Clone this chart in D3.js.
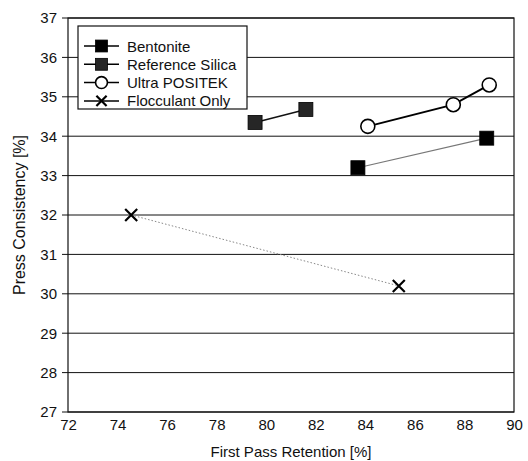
<!DOCTYPE html>
<html><head><meta charset="utf-8">
<script src="https://cdn.jsdelivr.net/npm/d3@7"></script>
<style>body{margin:0;background:#fff}svg{display:block}text{font-family:"Liberation Sans",Arial,sans-serif;fill:#111}</style>
</head><body><svg id="c" width="528" height="461"></svg>
<script>
const seriesNames = ["Bentonite","Reference Silica","Ultra POSITEK","Flocculant Only"];
const bentonite = [[83.7,33.2],[88.9,33.95]];
const referenceSilica = [[79.55,34.35],[81.6,34.68]];
const ultraPositek = [[84.1,34.25],[87.55,34.8],[89.0,35.3]];
const flocculantOnly = [[74.55,32.0],[85.35,30.2]];
const xTicks = [72,74,76,78,80,82,84,86,88,90];
const yTicks = [27,28,29,30,31,32,33,34,35,36,37];

const svg = d3.select("#c");
const L=68,R=514,T=18,B=412;
const x = d3.scaleLinear().domain([72,90]).range([L,R]);
const y = d3.scaleLinear().domain([27,37]).range([B,T]);

svg.append("g").selectAll("line").data(yTicks).join("line")
  .attr("x1",L-6).attr("x2",R).attr("y1",d=>y(d)).attr("y2",d=>y(d))
  .attr("stroke","#111").attr("stroke-width",1);
svg.append("rect").attr("x",L).attr("y",T).attr("width",R-L).attr("height",B-T)
  .attr("fill","none").attr("stroke","#111").attr("stroke-width",1.2);

const yAxis = d3.axisLeft(y).tickValues(yTicks).tickSize(0).tickPadding(11);
const gy = svg.append("g").attr("transform",`translate(${L},0)`).call(yAxis);
gy.select(".domain").remove();
gy.selectAll("text").attr("font-size",15).style("font-family","Liberation Sans, Arial");
const xAxis = d3.axisBottom(x).tickValues(xTicks).tickSize(0).tickPadding(7);
const gx = svg.append("g").attr("transform",`translate(0,${B})`).call(xAxis);
gx.select(".domain").remove();
gx.selectAll("text").attr("font-size",15).style("font-family","Liberation Sans, Arial");

svg.append("text").attr("x",(L+R)/2).attr("y",457).attr("text-anchor","middle")
  .attr("font-size",15).text("First Pass Retention [%]");
svg.append("text").attr("transform",`translate(25,${(T+B)/2}) rotate(-90)`).attr("text-anchor","middle")
  .attr("font-size",16).text("Press Consistency [%]");

const line = d3.line().x(d=>x(d[0])).y(d=>y(d[1]));
const styles = [
  {data:bentonite, stroke:"#777", sw:1.2, dash:null, marker:"sq", fill:"#000"},
  {data:referenceSilica, stroke:"#111", sw:1.5, dash:null, marker:"sq", fill:"#262626"},
  {data:ultraPositek, stroke:"#000", sw:2, dash:null, marker:"circ", fill:"#fff"},
  {data:flocculantOnly, stroke:"#888", sw:1, dash:"1.5,2", marker:"x", fill:"none"}
];
function drawMarker(g, type, cx, cy, fill, scale){
  scale = scale||1;
  if(type==="sq"){
    const s=14*scale;
    g.append("rect").attr("x",cx-s/2).attr("y",cy-s/2).attr("width",s).attr("height",s).attr("fill",fill).attr("stroke","#000").attr("stroke-width",0.8);
  } else if(type==="circ"){
    g.append("circle").attr("cx",cx).attr("cy",cy).attr("r",7*scale).attr("fill","#fff").attr("stroke","#000").attr("stroke-width",1.6);
  } else {
    const s=6*scale;
    g.append("path").attr("d",`M${cx-s},${cy-s}L${cx+s},${cy+s}M${cx-s},${cy+s}L${cx+s},${cy-s}`).attr("stroke","#000").attr("stroke-width",2.2);
  }
}
styles.forEach(s=>{
  const p = svg.append("path").datum(s.data).attr("d",line).attr("fill","none")
    .attr("stroke",s.stroke).attr("stroke-width",s.sw);
  if(s.dash) p.attr("stroke-dasharray",s.dash);
  const g = svg.append("g");
  s.data.forEach(d=>drawMarker(g,s.marker,x(d[0]),y(d[1]),s.fill));
});

const lg = svg.append("g");
lg.append("rect").attr("x",78).attr("y",26).attr("width",169).attr("height",83)
  .attr("fill","#fff").attr("stroke","#111").attr("stroke-width",1.2);
seriesNames.forEach((n,i)=>{
  const cy = 46 + i*18.3;
  lg.append("line").attr("x1",84).attr("x2",119).attr("y1",cy).attr("y2",cy).attr("stroke","#000").attr("stroke-width",1.5);
  drawMarker(lg, styles[i].marker, 101.5, cy, styles[i].fill, 0.85);
  lg.append("text").attr("x",127).attr("y",cy+5.5).attr("font-size",15).text(n);
});
</script></body></html>
